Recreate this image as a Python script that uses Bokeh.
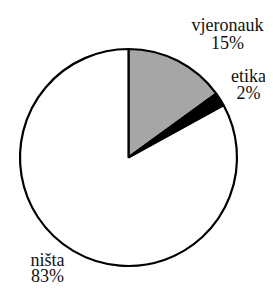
import math
from bokeh.plotting import figure
from bokeh.models import Range1d, ColumnDataSource
from bokeh.core.properties import value
from bokeh.embed import file_html
from bokeh.resources import INLINE

categories = ["vjeronauk", "etika", "ništa"]
shares = [15, 2, 83]
pct_labels = ["15%", "2%", "83%"]
colors = ["#a6a6a6", "#000000", "#ffffff"]

W, H = 265, 285
# data coords: x = reference pixel x; y = 293 - reference pixel y
p = figure(width=W, height=H, output_backend="svg", toolbar_location=None,
           x_range=Range1d(0, W), y_range=Range1d(293 - H, 293), min_border=0)
p.axis.visible = False
p.grid.visible = False
p.outline_line_color = None
p.background_fill_color = "white"
p.border_fill_color = "white"

def Y(py):
    return 293 - py

cx, cy, r = 128, Y(157), 108.5
start = math.pi / 2
total = sum(shares)
starts, ends, cum = [], [], 0
for s in shares:
    starts.append(start - 2 * math.pi * cum / total)
    cum += s
    ends.append(start - 2 * math.pi * cum / total)

src = ColumnDataSource(dict(cat=categories, start=starts, end=ends, color=colors))
p.wedge(x=cx, y=cy, radius=r, start_angle="start", end_angle="end", direction="clock",
        fill_color="color", line_color="black", line_width=2.2, source=src)

# label anchors: (x, y of category line, y of percent line) in reference pixels
anchors = [(227, 24, 42), (248, 75, 92), (47, 259, 275)]
xs, ys, txt = [], [], []
for (ax, ay1, ay2), c, pl in zip(anchors, categories, pct_labels):
    xs += [ax, ax]
    ys += [Y(ay1), Y(ay2)]
    txt += [c, pl]
p.text(x=xs, y=ys, text=txt, text_font=value("Liberation Serif"), text_font_size="18px",
       text_align="center", text_baseline="middle", text_color="#111111")

open("out.html", "w").write(file_html(p, INLINE))
